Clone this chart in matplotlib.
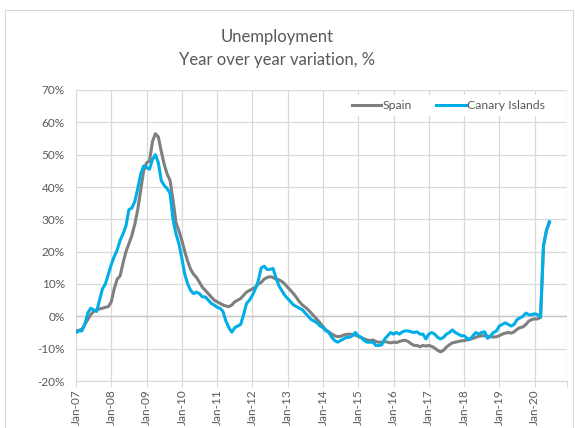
import numpy as np
import matplotlib.pyplot as plt
from matplotlib.patches import Rectangle

# monthly categories Jan-07 .. Dec-20, data up to Jun-20
years = ['07', '08', '09', '10', '11', '12', '13', '14', '15', '16', '17', '18', '19', '20']
month_names = ['Jan', 'Feb', 'Mar', 'Apr', 'May', 'Jun', 'Jul', 'Aug', 'Sep', 'Oct', 'Nov', 'Dec']
months = [m + '-' + y for y in years for m in month_names]

spain = [
    -4.5, -4.3, -4.0, -2.5, -1.0, 0.5, 1.5, 2.0, 2.3, 2.5, 2.8, 3.0,
    4.5, 8.5, 11.5, 12.5, 16.5, 20.0, 22.5, 25.0, 28.5, 33.0, 39.0, 45.0,
    47.5, 48.0, 54.0, 56.5, 55.5, 51.0, 47.0, 44.0, 42.0, 36.0, 29.0, 26.5,
    23.5, 20.0, 17.0, 14.5, 13.0, 12.0, 10.5, 9.0, 8.0, 7.0, 6.0, 5.0,
    4.5, 4.0, 3.5, 3.2, 3.0, 3.5, 4.5, 5.0, 5.5, 6.5, 7.5, 8.0,
    8.5, 9.0, 10.0, 10.5, 11.5, 12.0, 12.3, 12.0, 11.5, 11.3, 10.8, 10.0,
    9.0, 8.0, 7.0, 5.8, 4.5, 3.5, 2.8, 2.0, 1.0, 0.0, -1.0, -2.0,
    -3.2, -4.2, -4.8, -5.5, -6.0, -6.3, -6.2, -5.8, -5.6, -5.5, -5.6, -5.8,
    -6.2, -6.6, -7.0, -7.3, -7.5, -7.3, -7.8, -8.0, -8.0, -7.8, -8.0, -8.2,
    -8.0, -8.1, -7.8, -7.5, -7.4, -7.8, -8.5, -9.0, -9.0, -9.4, -9.0, -9.2,
    -9.0, -9.3, -9.8, -10.5, -11.0, -10.5, -9.5, -8.8, -8.2, -8.0, -7.8, -7.6,
    -7.5, -7.3, -7.0, -6.8, -6.5, -6.2, -6.0, -6.0, -6.2, -6.3, -6.4, -6.3,
    -6.0, -5.5, -5.2, -5.0, -5.2, -4.8, -4.0, -3.5, -3.3, -2.5, -1.5, -1.0,
    -0.8, -0.8, -0.3, 21.5, 26.5, 29.0,
]

canary = [
    -5.0, -4.5, -4.5, -2.5, 1.0, 2.5, 2.0, 1.5, 5.0, 8.5, 10.0, 13.0,
    16.0, 18.5, 20.5, 23.5, 25.5, 28.0, 33.0, 33.5, 35.5, 39.5, 44.0, 46.5,
    46.0, 45.5, 48.5, 50.0, 47.5, 42.0, 40.5, 39.5, 38.0, 30.0, 25.5, 22.5,
    18.0, 13.0, 10.0, 8.0, 7.0, 7.5, 7.0, 6.0, 6.0, 5.0, 4.0, 3.5,
    2.8, 2.5, 1.5, -1.5, -3.5, -4.9, -3.5, -3.0, -2.5, 0.5, 4.0, 5.0,
    6.5, 8.5, 11.0, 15.0, 15.5, 14.5, 14.5, 14.8, 12.0, 9.5, 8.0, 6.5,
    5.5, 4.5, 3.5, 3.0, 2.5, 2.0, 1.0, 0.0, -1.0, -1.5, -2.0, -3.0,
    -3.5, -4.5, -5.0, -6.5, -7.5, -8.0, -7.5, -7.0, -6.5, -6.5, -6.0, -5.0,
    -6.0, -6.5, -7.5, -8.0, -8.0, -8.0, -9.0, -9.0, -8.8, -7.0, -6.0, -5.0,
    -5.5, -5.0, -5.5, -4.8, -4.5, -4.5, -4.8, -5.0, -4.8, -5.5, -5.5, -7.0,
    -5.5, -5.0, -5.5, -6.5, -7.0, -6.5, -5.5, -5.0, -4.2, -5.0, -5.5, -6.0,
    -6.0, -6.8, -7.2, -6.0, -5.0, -5.5, -5.0, -4.8, -6.8, -6.0, -5.0, -4.5,
    -3.0, -2.5, -2.0, -2.5, -3.0, -2.5, -1.0, -0.5, 0.0, 1.0, 0.5, 0.5,
    0.8, 0.5, -0.2, 22.0, 26.5, 29.3,
]

y_ticks = [-20, -10, 0, 10, 20, 30, 40, 50, 60, 70]

plt.rcParams['font.family'] = ['Lato', 'DejaVu Sans']
txt = '#595959'
grid = '#d9d9d9'

fig = plt.figure(figsize=(5.75, 4.28), dpi=100)
ax = fig.add_axes([76 / 575, 1 - 381 / 428, 491 / 575, 291 / 428])

# outer chart border
fig.patches.append(Rectangle((5 / 575, -0.05), 568 / 575, 1 - 10 / 428 + 0.05,
                             transform=fig.transFigure, fill=False,
                             edgecolor='#d9d9d9', linewidth=0.8))

x = np.arange(len(months))
ax.plot(x[:len(spain)], spain, color='#7f7f7f', lw=2.2, label='Spain', zorder=3)
ax.plot(x[:len(canary)], canary, color='#00aee8', lw=2.2, label='Canary Islands', zorder=4)

ax.set_xlim(0, len(months) - 1)
ax.set_ylim(-20, 70)
ax.set_yticks(y_ticks)
ax.set_yticklabels([f'{v}%' for v in y_ticks])
ax.set_xticks(list(x[::12]) + [len(months) - 1])
ax.set_xticklabels(months[::12] + [''], rotation=90)

ax.grid(True, color=grid, lw=0.9)
ax.set_axisbelow(True)
for s in ['top', 'right', 'left']:
    ax.spines[s].set_visible(False)
ax.spines['bottom'].set_color(grid)
ax.axhline(0, color='#c8c8c8', lw=1.0, zorder=1)
ax.tick_params(axis='y', length=0, labelsize=8.5, colors=txt, pad=8)
ax.tick_params(axis='x', length=4, color=grid, labelsize=8.5, colors=txt, pad=2)

leg = ax.legend(loc='upper right', ncol=2, frameon=True, fontsize=8.8,
                bbox_to_anchor=(0.97, 0.99), handlelength=2.4, handletextpad=0.1,
                columnspacing=2.0, borderaxespad=0.2)
leg.get_frame().set_facecolor('white')
leg.get_frame().set_edgecolor('none')
leg.get_frame().set_alpha(1)
for t in leg.get_texts():
    t.set_color(txt)

fig.text(277 / 575, 1 - 37 / 428, 'Unemployment', ha='center', va='center', fontsize=12, color=txt)
fig.text(277 / 575, 1 - 60 / 428, 'Year over year variation, %', ha='center', va='center', fontsize=12, color=txt)

fig.savefig('out.png', dpi=100)
